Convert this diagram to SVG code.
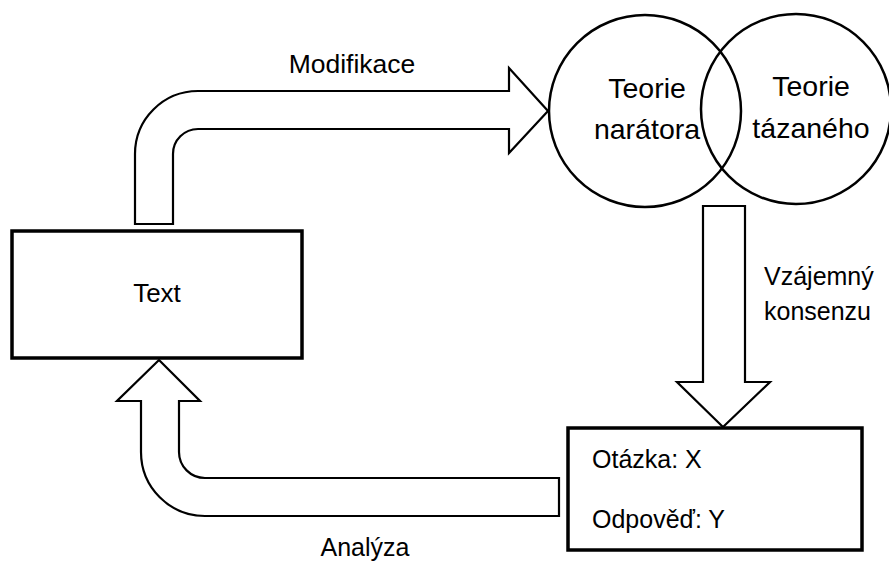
<svg xmlns="http://www.w3.org/2000/svg" width="889" height="561" viewBox="0 0 889 561">
<style>
.arrow{fill:#fff;stroke:#000;stroke-width:2.2;stroke-linejoin:miter}
.box{fill:#fff;stroke:#000;stroke-width:3.5}
.circ{fill:none;stroke:#000;stroke-width:2.5}
text{font-family:"Liberation Sans",Arial,sans-serif;fill:#000}
.c{text-anchor:middle}
</style>
<rect width="889" height="561" fill="#fff"/>
<g id="connectors">
<path class="arrow" d="M135,224 L135,154 A63,63 0 0 1 198,91 L509,91 L509,68 L548,111 L509,153 L509,129 L198,129 A25,25 0 0 0 173,154 L173,224 Z"/>
<path class="arrow" d="M703,206 L745,206 L745,382 L770,382 L723,427 L677,382 L703,382 Z"/>
<path class="arrow" d="M159,360 L200,401 L179,401 L179,452 A26,26 0 0 0 205,478 L559,478 L559,516 L205,516 A64,64 0 0 1 141,452 L141,401 L117,401 Z"/>
<text class="c" x="352" y="73" font-size="26.5">Modifikace</text>
<text x="764" y="285" font-size="25">Vzájemný</text>
<text x="764" y="320" font-size="25">konsenzu</text>
<text class="c" x="365" y="556" font-size="25">Analýza</text>
</g>
<g id="text-node">
<rect class="box" x="12" y="231" width="290" height="127"/>
<text class="c" x="157" y="302" font-size="26">Text</text>
</g>
<g id="teorie-naratora">
<circle class="circ" cx="645" cy="111" r="96"/>
<text class="c" x="647" y="98" font-size="28.5">Teorie</text>
<text class="c" x="647" y="139" font-size="28.5">narátora</text>
</g>
<g id="teorie-tazaneho">
<circle class="circ" cx="796" cy="109" r="95"/>
<text class="c" x="811" y="96" font-size="28.5">Teorie</text>
<text class="c" x="811" y="138" font-size="28.5">tázaného</text>
</g>
<g id="otazka-node">
<rect class="box" x="568" y="428" width="294" height="122"/>
<text x="592" y="468" font-size="25">Otázka: X</text>
<text x="592" y="528" font-size="25">Odpověď: Y</text>
</g>
</svg>
